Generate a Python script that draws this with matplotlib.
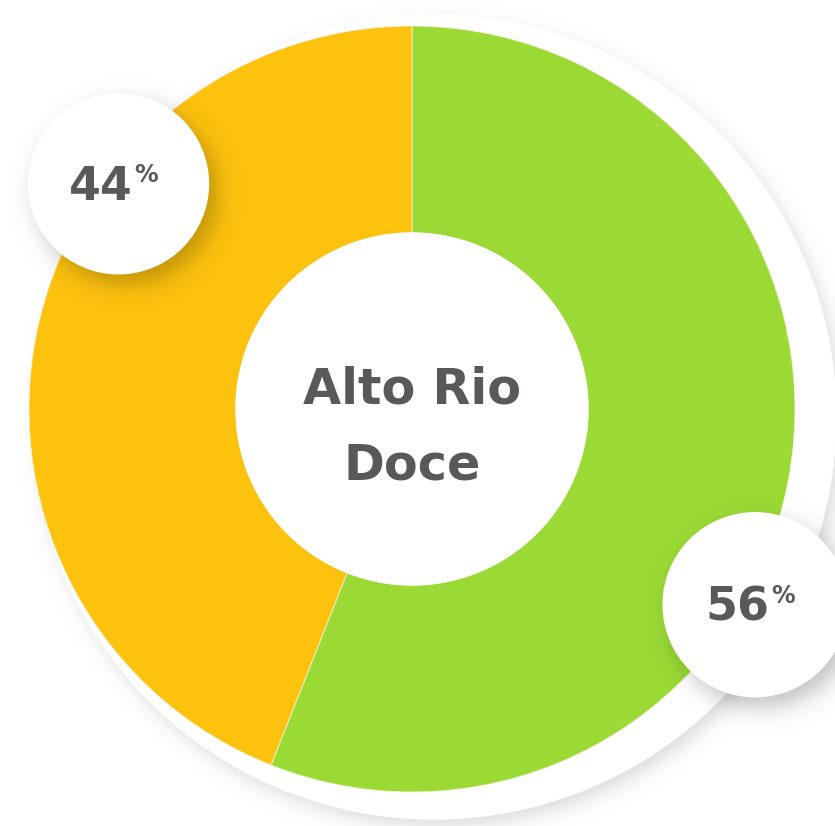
import numpy as np
import matplotlib
matplotlib.use("Agg")
import matplotlib.pyplot as plt
from matplotlib.patches import Circle

W, H = 835, 826

# region share, percent
labels = ["Alto Rio", "Doce"]
values = [56, 44]
colors = ["#9BDA35", "#FDC20E"]
# where each value badge sits, polar around the donut centre (deg, px)
badge_angle = [-29.7, 142.5]
badge_dist = [395, 370]
badge_r = [92, 90]

TEXT = "#58595B"
FONT = ["DejaVu Sans"]

CX, CY = 412, 417          # donut centre, y measured upward
R_OUT, R_IN = 383, 176
BACK_X, BACK_Y, R_BACK = 434, 409, 402   # white backing plate


def shadow(ax, cx, cy, r, dx, dy, soft, alpha, z):
    """Soft drop shadow under a circle, drawn as an alpha ramp image."""
    pad = r + 4 * soft + max(abs(dx), abs(dy))
    x0, x1 = cx + dx - pad, cx + dx + pad
    y0, y1 = cy - dy - pad, cy - dy + pad
    xs = np.linspace(x0, x1, 400)
    ys = np.linspace(y0, y1, 400)
    xx, yy = np.meshgrid(xs, ys)
    d = np.hypot(xx - (cx + dx), yy - (cy - dy))
    a = alpha / (1 + np.exp((d - r) / soft))
    img = np.zeros((400, 400, 4))
    img[..., 3] = a
    ax.imshow(img, extent=(x0, x1, y0, y1), origin="lower",
              interpolation="bilinear", zorder=z)


fig = plt.figure(figsize=(W / 100, H / 100), dpi=100)
ax = fig.add_axes([0, 0, 1, 1])
ax.set_xlim(0, W)
ax.set_ylim(0, H)
ax.set_aspect("equal")
ax.axis("off")

# white backing plate behind the ring, shadow cast down-right
shadow(ax, BACK_X, BACK_Y, R_BACK, 6, 8, 6, 0.15, 1)
ax.add_patch(Circle((BACK_X, BACK_Y), R_BACK, color="white", zorder=2))

wedges, _ = ax.pie(values, colors=colors, startangle=90, counterclock=False,
                   center=(CX, CY), radius=R_OUT,
                   wedgeprops=dict(width=R_OUT - R_IN, edgecolor="#F6F0D8",
                                   linewidth=0.6))
for w in wedges:
    w.set_zorder(3)
ax.set_xlim(0, W)
ax.set_ylim(0, H)
ax.add_patch(Circle((CX, CY), R_IN, color="white", zorder=4))

ax.text(CX, CY + 6, labels[0], ha="center", va="baseline", fontsize=35.5,
        fontweight="bold", color=TEXT, family=FONT, zorder=5)
ax.text(CX, CY - 71, labels[1], ha="center", va="baseline", fontsize=35.5,
        fontweight="bold", color=TEXT, family=FONT, zorder=5)

for v, ang, dist, r in zip(values, badge_angle, badge_dist, badge_r):
    bx = CX + dist * np.cos(np.radians(ang))
    by = CY + dist * np.sin(np.radians(ang))
    shadow(ax, bx, by, r, 8, 10, 7, 0.24, 6)
    ax.add_patch(Circle((bx, by), r, color="white", zorder=7))
    ax.text(bx + 14, by - 16, f"{v}", ha="right", va="baseline",
            fontsize=33, fontweight="bold", color=TEXT, family=FONT,
            zorder=8)
    ax.text(bx + 16, by + 21, "%", ha="left", va="top", fontsize=17,
            fontweight="bold", color=TEXT, family=FONT, zorder=8)

fig.savefig("out.png", dpi=100, facecolor="white")
